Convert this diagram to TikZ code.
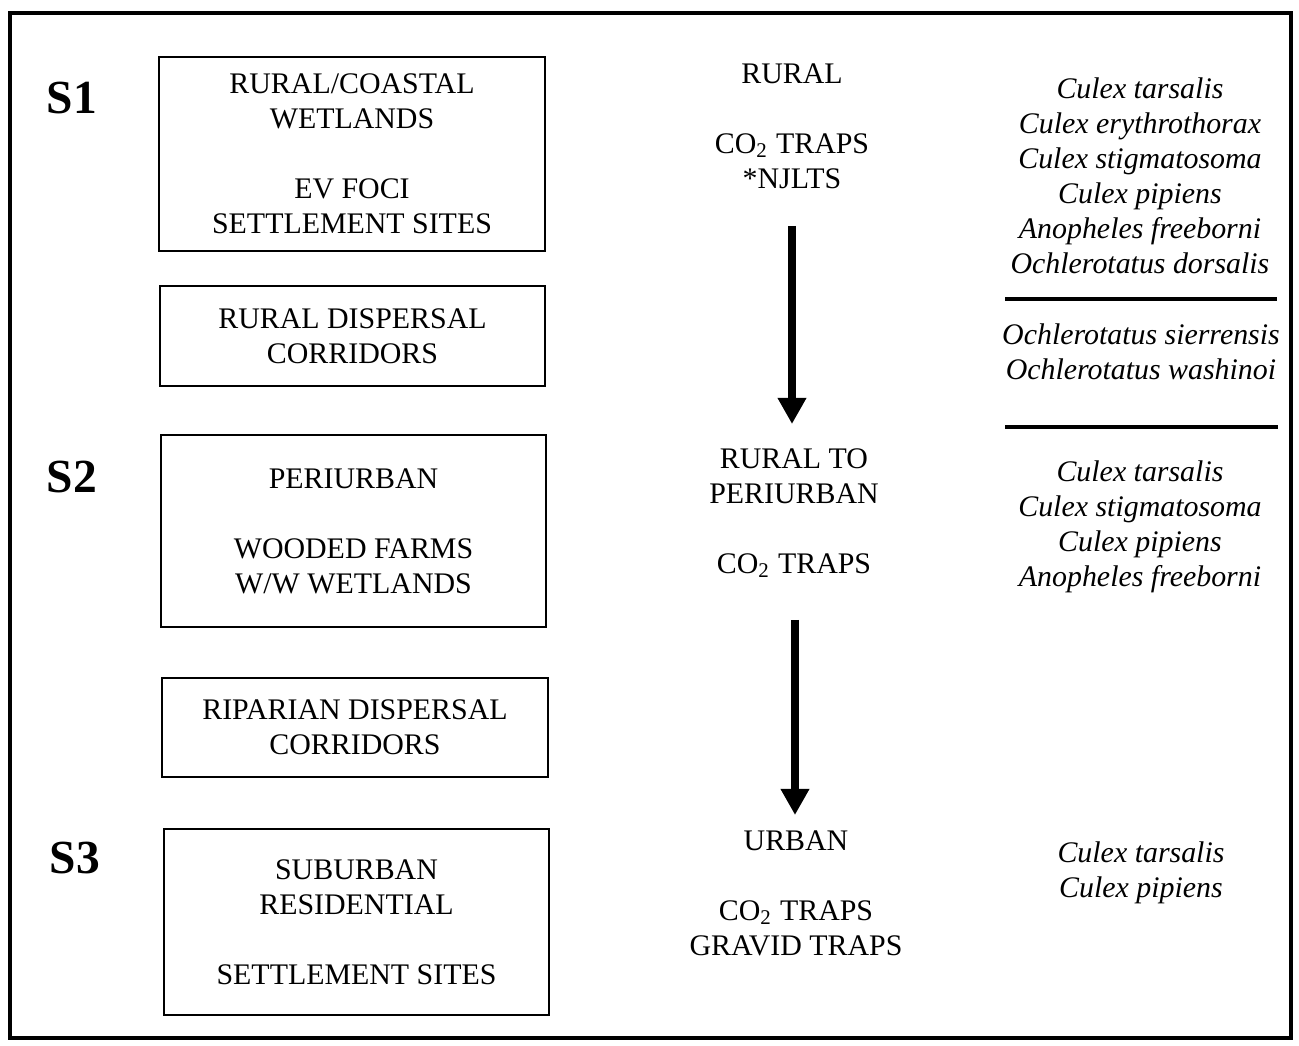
\documentclass[tikz,border=0pt]{standalone}
\usepackage{fontspec}
\setmainfont{Liberation Serif}
\usetikzlibrary{arrows.meta}

\tikzset{
  habitat/.style={draw, line width=0.6pt, minimum width=3.85cm, inner sep=0pt,
    align=center, font=\fontsize{8.5}{9.96}\selectfont},
  zone/.style={font=\fontsize{13.5}{16}\selectfont\bfseries},
  traps/.style={align=center, inner sep=0pt, font=\fontsize{8.5}{9.96}\selectfont},
  species/.style={align=center, inner sep=0pt, font=\fontsize{8.5}{9.96}\selectfont\itshape},
  trend/.style={line width=0.075cm, -{Triangle[width=0.27cm,length=0.26cm]}},
  divider/.style={line width=0.9pt},
}

\begin{document}
\begin{tikzpicture}[x=0.01cm, y=-0.01cm]
  \useasboundingbox (0,0) rectangle (1299,1046);
  \draw[line width=1.2pt] (10,13) rectangle (1291,1038);

  % zones
  \node[zone] (s1) at (72,98) {S1};
  \node[zone] (s2) at (72,477) {S2};
  \node[zone] (s3) at (75,858) {S3};

  % habitat boxes
  \node[habitat, minimum height=1.94cm] (rcw) at (352,154)
    {RURAL/COASTAL\\WETLANDS\\[9.96pt]EV FOCI\\SETTLEMENT SITES};
  \node[habitat, minimum height=1.0cm] (rdc) at (352.5,336)
    {RURAL DISPERSAL\\CORRIDORS};
  \node[habitat, minimum height=1.92cm] (peri) at (353.5,531)
    {PERIURBAN\\[9.96pt]WOODED FARMS\\W/W WETLANDS};
  \node[habitat, minimum height=0.99cm] (ripdc) at (355,727.5)
    {RIPARIAN DISPERSAL\\CORRIDORS};
  \node[habitat, minimum height=1.86cm] (suburb) at (356.5,922)
    {SUBURBAN\\RESIDENTIAL\\[9.96pt]SETTLEMENT SITES};

  % traps per zone
  \node[traps] (trRural) at (792,126) {RURAL\\[9.96pt]CO\textsubscript{2} TRAPS\\*NJLTS};
  \node[traps] (trPeri) at (794,513) {RURAL TO\\PERIURBAN\\[9.96pt]CO\textsubscript{2} TRAPS};
  \node[traps] (trUrban) at (796,893.5) {URBAN\\[9.96pt]CO\textsubscript{2} TRAPS\\GRAVID TRAPS};

  \coordinate (a1) at (792,226);
  \coordinate (a1tip) at (792,424);
  \coordinate (a2) at (795,620);
  \coordinate (a2tip) at (795,815);
  \draw[trend] (a1) -- (a1tip);
  \draw[trend] (a2) -- (a2tip);

  % species
  \node[species] (spRural) at (1140,175.5) {Culex tarsalis\\Culex erythrothorax\\Culex stigmatosoma\\
    Culex pipiens\\Anopheles freeborni\\Ochlerotatus dorsalis};
  \draw[divider] (1005,299) -- (1277,299);
  \node[species] (spOchl) at (1141,351.5) {Ochlerotatus sierrensis\\Ochlerotatus washinoi};
  \draw[divider] (1005,427) -- (1278,427);
  \node[species] (spPeri) at (1140,527) {Culex tarsalis\\Culex stigmatosoma\\Culex pipiens\\Anopheles freeborni};
  \node[species] (spUrban) at (1141,872.5) {Culex tarsalis\\Culex pipiens};
\end{tikzpicture}
\end{document}
